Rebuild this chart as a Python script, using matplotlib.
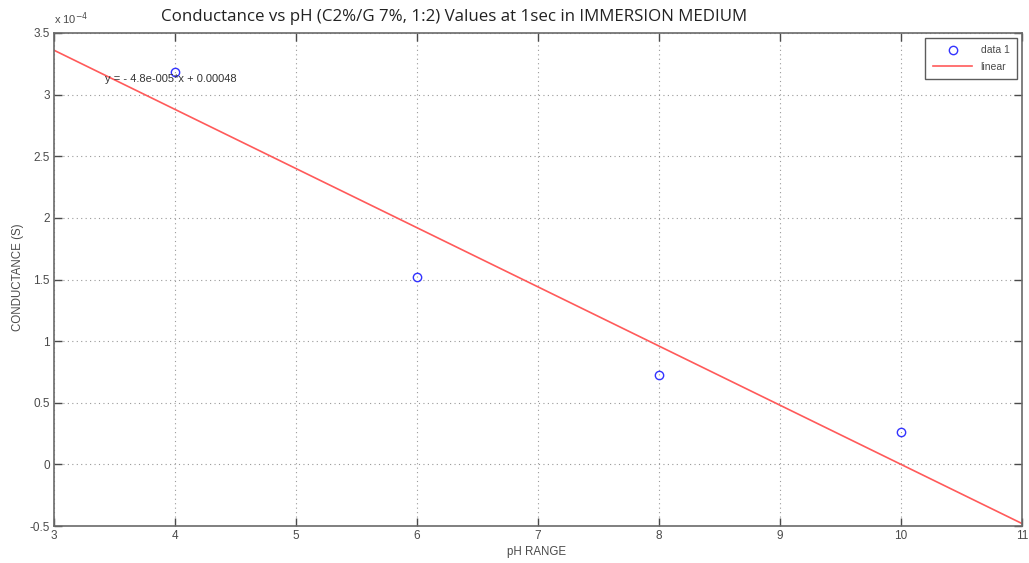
import numpy as np
import matplotlib
matplotlib.use('Agg')
from matplotlib import pyplot as plt

ph = [4, 6, 8, 10]
conductance = [3.18e-4, 1.52e-4, 0.726e-4, 0.26e-4]

# fitted line coefficients (shown on the plot)
slope = -4.8e-5
intercept = 0.00048

x_ticks = [3, 4, 5, 6, 7, 8, 9, 10, 11]
y_ticks = [-0.5, 0, 0.5, 1, 1.5, 2, 2.5, 3, 3.5]

plt.rcParams['font.family'] = 'Liberation Sans'
grey = '#4a4a4a'

fig = plt.figure(figsize=(10.29, 5.63), dpi=100)
ax = fig.add_axes([0.0525, 0.0657, 0.9407, 0.8757])

scale = 1e-4
ax.plot(np.array(ph), np.array(conductance) / scale, 'o', mfc='none', mec='#3333ff',
        ms=6, mew=1.0, label='data 1')
xl = np.array([x_ticks[0], x_ticks[-1]])
ax.plot(xl, (slope * xl + intercept) / scale, color='#ff5a5a', lw=1.2, label='linear')

ax.set_xlim(3, 11)
ax.set_ylim(-0.5, 3.5)
ax.set_xticks(x_ticks)
ax.set_yticks(y_ticks)
ax.set_yticklabels(['-0.5', '0', '0.5', '1', '1.5', '2', '2.5', '3', '3.5'])
ax.grid(True, linestyle=(0, (1, 3)), color='#9a9a9a', lw=0.8)
ax.tick_params(direction='in', length=6, width=1, colors=grey, labelsize=8.5,
               top=True, right=True, pad=3)
for s in ax.spines.values():
    s.set_color('#6a6a6a')
    s.set_linewidth(1.2)

ax.text(0.0, 1.012, r'x 10$^{-4}$', transform=ax.transAxes, fontsize=8, color=grey,
        ha='left', va='bottom')
ax.text(3.42, 3.1, 'y = - 4.8e-005*x + 0.00048', fontsize=8, color='#333333')

fig.text(454 / 1029, 1 - 17 / 563,
         'Conductance vs pH (C2%/G 7%, 1:2) Values at 1sec in IMMERSION MEDIUM',
         fontsize=12.2, color='#222222', family='Open Sans', ha='center', va='center')
ax.set_xlabel('pH RANGE', fontsize=8.3, color=grey)
ax.xaxis.set_label_coords(0.499, -20 / 493)
ax.set_ylabel('CONDUCTANCE (S)', fontsize=8.3, color=grey)
ax.yaxis.set_label_coords(-30 / 968, 0.505)

leg = ax.legend(loc='upper right', fontsize=7.5, frameon=True, fancybox=False,
                edgecolor='#333333', borderaxespad=0.5, handlelength=3.8,
                markerfirst=True, borderpad=0.7, labelspacing=0.6)
leg.get_frame().set_linewidth(1.0)
for t in leg.get_texts():
    t.set_color(grey)

fig.savefig('out.png', dpi=100)
